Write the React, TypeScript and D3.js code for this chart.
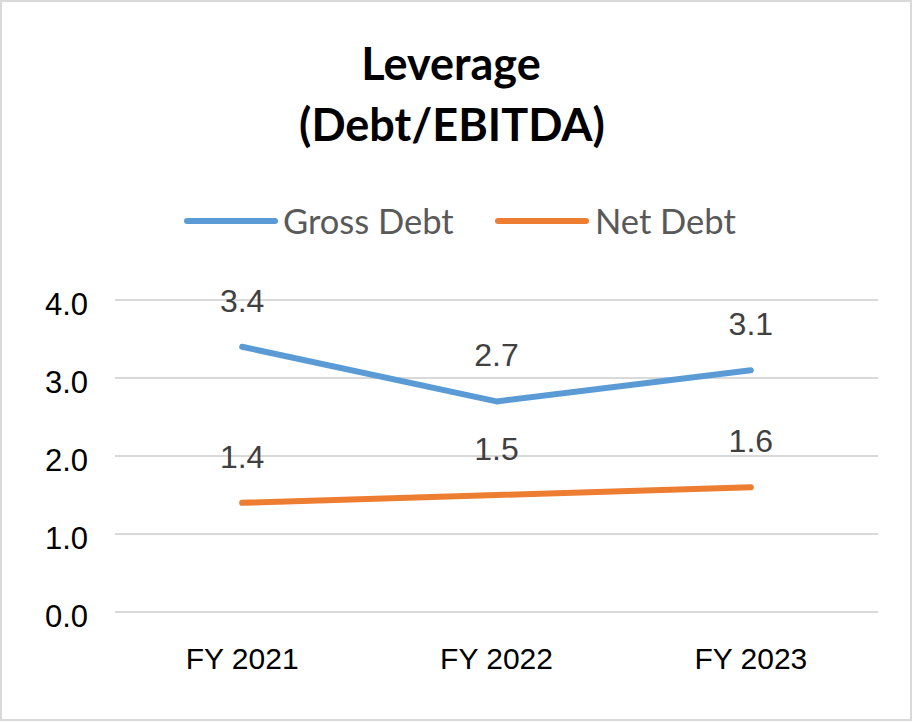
import * as d3 from 'd3';
import React from 'react';

const categories = ['FY 2021', 'FY 2022', 'FY 2023'];
const grossDebt = [3.4, 2.7, 3.1];
const netDebt = [1.4, 1.5, 1.6];
const yTicks = [0, 1, 2, 3, 4];
const seriesNames = ['Gross Debt', 'Net Debt'];

const W = 913;
const H = 722;
const colors = ['#5b9bd5', '#ed7d31'];

export default function App() {
  const x = d3.scaleBand().domain(categories).range([115, 878]);
  const y = d3.scaleLinear().domain([0, 4]).range([612, 300]);
  const series = [grossDebt, netDebt];
  const cx = (c: string) => (x(c) as number) + x.bandwidth() / 2;
  const line = d3
    .line<number>()
    .x((_, i) => cx(categories[i]))
    .y(d => y(d));

  // legend swatch start, text start
  const legendX = [[187, 283], [498, 595]];
  const fmt = d3.format('.1f');
  const sans = "'Liberation Sans', Arial, sans-serif";

  return (
    <div style={{ position: 'absolute', left: 0, top: 0 }}>
      <svg width={W} height={H}>
        <rect x={1} y={1} width={W - 3} height={H - 3} fill="#fff" stroke="#d9d9d9" strokeWidth={2} />
        <g fontFamily="Lato, 'Open Sans', sans-serif" fontWeight="bold" fontSize={45} fill="#000" textAnchor="middle">
          <text x={451} y={80}>Leverage</text>
          <text x={452} y={141}>(Debt/EBITDA)</text>
        </g>
        {seriesNames.map((name, i) => (
          <g key={name}>
            <line x1={legendX[i][0]} x2={legendX[i][0] + 88} y1={221} y2={221} stroke={colors[i]} strokeWidth={6} strokeLinecap="round" />
            <text x={legendX[i][1]} y={234} fontFamily="Lato, sans-serif" fontSize={34.5} fill="#595959">{name}</text>
          </g>
        ))}
        {yTicks.map(t => (
          <g key={t}>
            <line x1={115} x2={878} y1={y(t)} y2={y(t)} stroke="#d9d9d9" strokeWidth={2} />
            <text x={88} y={y(t) + 15} textAnchor="end" fontFamily={sans} fontSize={31} fill="#000">{fmt(t)}</text>
          </g>
        ))}
        {categories.map(c => (
          <text key={c} x={cx(c)} y={669} textAnchor="middle" fontFamily={sans} fontSize={30} fill="#000">{c}</text>
        ))}
        {series.map((s, si) => (
          <g key={si}>
            <path d={line(s) as string} fill="none" stroke={colors[si]} strokeWidth={6} strokeLinecap="round" strokeLinejoin="round" />
            {s.map((v, i) => (
              <text key={i} x={cx(categories[i])} y={y(v) - 35} textAnchor="middle" fontFamily={sans} fontSize={32} fill="#404040">{fmt(v)}</text>
            ))}
          </g>
        ))}
      </svg>
    </div>
  );
}
